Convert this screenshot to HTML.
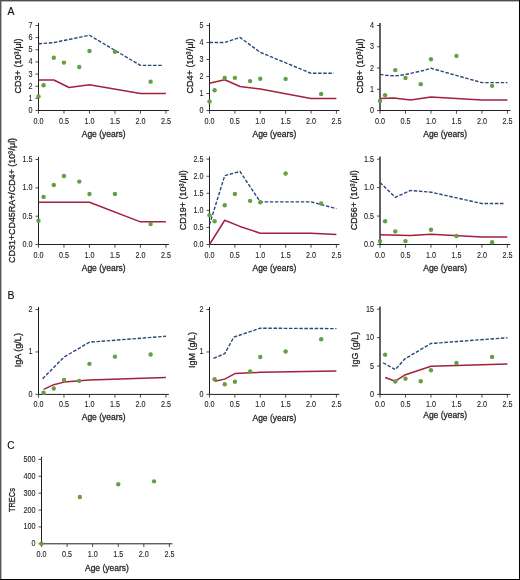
<!DOCTYPE html>
<html><head><meta charset="utf-8"><style>
html,body{margin:0;padding:0;background:#fff;}
svg{will-change:transform;}
svg{display:block;}
.t{font-family:"Liberation Sans",sans-serif;font-size:8.2px;fill:#231f20;stroke:#231f20;stroke-width:0.12px;}
.l{font-family:"Liberation Sans",sans-serif;font-size:9.6px;fill:#231f20;stroke:#231f20;stroke-width:0.3px;}
.pl{font-family:"Liberation Sans",sans-serif;font-size:11.2px;fill:#111;stroke:#111;stroke-width:0.15px;}
</style></head><body>
<svg width="520" height="580" viewBox="0 0 520 580">
<rect x="0" y="0" width="520" height="580" fill="#fff"/>
<text transform="translate(7.5 15.1) scale(0.93 1)" class="pl">A</text>
<text transform="translate(7.5 299.1) scale(0.93 1)" class="pl">B</text>
<text transform="translate(7.3 449.1) scale(0.9 1)" class="pl">C</text>
<path d="M38.5 22.9V110.5H168.9" fill="none" stroke="#231f20" stroke-width="1"/>
<text transform="translate(28.49 113) rotate(0.01)" class="t" textLength="4.01" lengthAdjust="spacingAndGlyphs">0</text>
<text transform="translate(28.49 100.86) rotate(0.01)" class="t" textLength="4.01" lengthAdjust="spacingAndGlyphs">1</text>
<text transform="translate(28.49 88.71) rotate(0.01)" class="t" textLength="4.01" lengthAdjust="spacingAndGlyphs">2</text>
<text transform="translate(28.49 76.57) rotate(0.01)" class="t" textLength="4.01" lengthAdjust="spacingAndGlyphs">3</text>
<text transform="translate(28.49 64.43) rotate(0.01)" class="t" textLength="4.01" lengthAdjust="spacingAndGlyphs">4</text>
<text transform="translate(28.49 52.29) rotate(0.01)" class="t" textLength="4.01" lengthAdjust="spacingAndGlyphs">5</text>
<text transform="translate(28.49 40.14) rotate(0.01)" class="t" textLength="4.01" lengthAdjust="spacingAndGlyphs">6</text>
<text transform="translate(28.49 28) rotate(0.01)" class="t" textLength="4.01" lengthAdjust="spacingAndGlyphs">7</text>
<text transform="translate(33.48 123.5) rotate(0.01)" class="t" textLength="10.03" lengthAdjust="spacingAndGlyphs">0.0</text>
<text transform="translate(58.96 123.5) rotate(0.01)" class="t" textLength="10.03" lengthAdjust="spacingAndGlyphs">0.5</text>
<text transform="translate(84.44 123.5) rotate(0.01)" class="t" textLength="10.03" lengthAdjust="spacingAndGlyphs">1.0</text>
<text transform="translate(109.92 123.5) rotate(0.01)" class="t" textLength="10.03" lengthAdjust="spacingAndGlyphs">1.5</text>
<text transform="translate(135.4 123.5) rotate(0.01)" class="t" textLength="10.03" lengthAdjust="spacingAndGlyphs">2.0</text>
<text transform="translate(160.88 123.5) rotate(0.01)" class="t" textLength="10.03" lengthAdjust="spacingAndGlyphs">2.5</text>
<path d="M35.5 110.5H38.5M35.5 98.36H38.5M35.5 86.21H38.5M35.5 74.07H38.5M35.5 61.93H38.5M35.5 49.79H38.5M35.5 37.64H38.5M35.5 25.5H38.5M38.5 110.5V113.7M63.98 110.5V113.7M89.46 110.5V113.7M114.94 110.5V113.7M140.42 110.5V113.7M165.9 110.5V113.7" fill="none" stroke="#231f20" stroke-width="0.8"/>
<text transform="translate(81.7 136.7) rotate(0.01)" class="l" textLength="44" lengthAdjust="spacingAndGlyphs">Age (years)</text>
<text transform="translate(21 93.4) rotate(-89.99)" x="0" y="0" class="l" textLength="55" lengthAdjust="spacingAndGlyphs">CD3+ (10³<tspan dx="0.5">/</tspan>μl)</text>
<polyline points="38.5,79.96 53.79,79.96 69.08,87.49 89.46,84.81 140.42,93.44 165.9,93.44" fill="none" stroke="#a3213d" stroke-width="1.5" stroke-linejoin="round"/>
<polyline points="38.5,43.77 53.79,42.56 89.46,35.27 140.42,65.39 163.35,65.39" fill="none" stroke="#284878" stroke-width="1.4" stroke-dasharray="3.5 1.65" stroke-linejoin="round"/>
<circle cx="38.5" cy="96.47" r="2.2" fill="#62a042"/>
<circle cx="43.6" cy="85.3" r="2.2" fill="#62a042"/>
<circle cx="53.79" cy="57.74" r="2.2" fill="#62a042"/>
<circle cx="63.98" cy="62.59" r="2.2" fill="#62a042"/>
<circle cx="79.27" cy="66.96" r="2.2" fill="#62a042"/>
<circle cx="89.46" cy="51.06" r="2.2" fill="#62a042"/>
<circle cx="114.94" cy="51.79" r="2.2" fill="#62a042"/>
<circle cx="150.61" cy="81.66" r="2.2" fill="#62a042"/>
<path d="M209.5 22.9V110.5H339.4" fill="none" stroke="#231f20" stroke-width="1"/>
<text transform="translate(199.49 113) rotate(0.01)" class="t" textLength="4.01" lengthAdjust="spacingAndGlyphs">0</text>
<text transform="translate(199.49 96) rotate(0.01)" class="t" textLength="4.01" lengthAdjust="spacingAndGlyphs">1</text>
<text transform="translate(199.49 79) rotate(0.01)" class="t" textLength="4.01" lengthAdjust="spacingAndGlyphs">2</text>
<text transform="translate(199.49 62) rotate(0.01)" class="t" textLength="4.01" lengthAdjust="spacingAndGlyphs">3</text>
<text transform="translate(199.49 45) rotate(0.01)" class="t" textLength="4.01" lengthAdjust="spacingAndGlyphs">4</text>
<text transform="translate(199.49 28) rotate(0.01)" class="t" textLength="4.01" lengthAdjust="spacingAndGlyphs">5</text>
<text transform="translate(204.48 123.5) rotate(0.01)" class="t" textLength="10.03" lengthAdjust="spacingAndGlyphs">0.0</text>
<text transform="translate(229.86 123.5) rotate(0.01)" class="t" textLength="10.03" lengthAdjust="spacingAndGlyphs">0.5</text>
<text transform="translate(255.24 123.5) rotate(0.01)" class="t" textLength="10.03" lengthAdjust="spacingAndGlyphs">1.0</text>
<text transform="translate(280.62 123.5) rotate(0.01)" class="t" textLength="10.03" lengthAdjust="spacingAndGlyphs">1.5</text>
<text transform="translate(306 123.5) rotate(0.01)" class="t" textLength="10.03" lengthAdjust="spacingAndGlyphs">2.0</text>
<text transform="translate(331.38 123.5) rotate(0.01)" class="t" textLength="10.03" lengthAdjust="spacingAndGlyphs">2.5</text>
<path d="M206.5 110.5H209.5M206.5 93.5H209.5M206.5 76.5H209.5M206.5 59.5H209.5M206.5 42.5H209.5M206.5 25.5H209.5M209.5 110.5V113.7M234.88 110.5V113.7M260.26 110.5V113.7M285.64 110.5V113.7M311.02 110.5V113.7M336.4 110.5V113.7" fill="none" stroke="#231f20" stroke-width="0.8"/>
<text transform="translate(252.45 136.7) rotate(0.01)" class="l" textLength="44" lengthAdjust="spacingAndGlyphs">Age (years)</text>
<text transform="translate(192.5 93.4) rotate(-89.99)" x="0" y="0" class="l" textLength="55" lengthAdjust="spacingAndGlyphs">CD4+ (10³<tspan dx="0.5">/</tspan>μl)</text>
<polyline points="209.5,83.3 224.73,79.73 239.96,86.53 260.26,88.91 311.02,98.6 336.4,98.6" fill="none" stroke="#a3213d" stroke-width="1.5" stroke-linejoin="round"/>
<polyline points="209.5,42.5 224.73,42.5 239.96,37.4 260.26,52.36 311.02,73.27 333.86,73.27" fill="none" stroke="#284878" stroke-width="1.4" stroke-dasharray="3.5 1.65" stroke-linejoin="round"/>
<circle cx="209.5" cy="101.49" r="2.2" fill="#62a042"/>
<circle cx="214.58" cy="90.27" r="2.2" fill="#62a042"/>
<circle cx="224.73" cy="78.03" r="2.2" fill="#62a042"/>
<circle cx="234.88" cy="77.86" r="2.2" fill="#62a042"/>
<circle cx="250.11" cy="81.09" r="2.2" fill="#62a042"/>
<circle cx="260.26" cy="78.71" r="2.2" fill="#62a042"/>
<circle cx="285.64" cy="78.88" r="2.2" fill="#62a042"/>
<circle cx="321.17" cy="94.01" r="2.2" fill="#62a042"/>
<path d="M380 22.9V110.5" fill="none" stroke="#231f20" stroke-width="1.4"/>
<path d="M380 110.5H510.4" fill="none" stroke="#231f20" stroke-width="1"/>
<text transform="translate(369.99 113) rotate(0.01)" class="t" textLength="4.01" lengthAdjust="spacingAndGlyphs">0</text>
<text transform="translate(369.99 91.75) rotate(0.01)" class="t" textLength="4.01" lengthAdjust="spacingAndGlyphs">1</text>
<text transform="translate(369.99 70.5) rotate(0.01)" class="t" textLength="4.01" lengthAdjust="spacingAndGlyphs">2</text>
<text transform="translate(369.99 49.25) rotate(0.01)" class="t" textLength="4.01" lengthAdjust="spacingAndGlyphs">3</text>
<text transform="translate(369.99 28) rotate(0.01)" class="t" textLength="4.01" lengthAdjust="spacingAndGlyphs">4</text>
<text transform="translate(374.98 123.5) rotate(0.01)" class="t" textLength="10.03" lengthAdjust="spacingAndGlyphs">0.0</text>
<text transform="translate(400.46 123.5) rotate(0.01)" class="t" textLength="10.03" lengthAdjust="spacingAndGlyphs">0.5</text>
<text transform="translate(425.94 123.5) rotate(0.01)" class="t" textLength="10.03" lengthAdjust="spacingAndGlyphs">1.0</text>
<text transform="translate(451.42 123.5) rotate(0.01)" class="t" textLength="10.03" lengthAdjust="spacingAndGlyphs">1.5</text>
<text transform="translate(476.9 123.5) rotate(0.01)" class="t" textLength="10.03" lengthAdjust="spacingAndGlyphs">2.0</text>
<text transform="translate(502.38 123.5) rotate(0.01)" class="t" textLength="10.03" lengthAdjust="spacingAndGlyphs">2.5</text>
<path d="M377 110.5H380M377 89.25H380M377 68H380M377 46.75H380M377 25.5H380M380 110.5V113.7M405.48 110.5V113.7M430.96 110.5V113.7M456.44 110.5V113.7M481.92 110.5V113.7M507.4 110.5V113.7" fill="none" stroke="#231f20" stroke-width="0.8"/>
<text transform="translate(423.2 136.7) rotate(0.01)" class="l" textLength="44" lengthAdjust="spacingAndGlyphs">Age (years)</text>
<text transform="translate(363 93.4) rotate(-89.99)" x="0" y="0" class="l" textLength="55" lengthAdjust="spacingAndGlyphs">CD8+ (10³<tspan dx="0.5">/</tspan>μl)</text>
<polyline points="380,98.6 393.76,97.96 410.58,100.09 430.96,96.9 481.92,100.09 507.4,100.09" fill="none" stroke="#a3213d" stroke-width="1.5" stroke-linejoin="round"/>
<polyline points="380,74.38 386.12,75.33 392.23,75.76 397.33,75.65 404.97,74.59 415.67,72.25 423.32,70.55 430.96,68.21 481.92,82.66 507.4,82.66" fill="none" stroke="#284878" stroke-width="1.4" stroke-dasharray="3.5 1.65" stroke-linejoin="round"/>
<circle cx="380" cy="100.94" r="2.2" fill="#62a042"/>
<circle cx="385.1" cy="95.2" r="2.2" fill="#62a042"/>
<circle cx="395.29" cy="70.12" r="2.2" fill="#62a042"/>
<circle cx="405.48" cy="77.99" r="2.2" fill="#62a042"/>
<circle cx="420.77" cy="84.15" r="2.2" fill="#62a042"/>
<circle cx="430.96" cy="59.29" r="2.2" fill="#62a042"/>
<circle cx="456.44" cy="55.89" r="2.2" fill="#62a042"/>
<circle cx="492.11" cy="85.85" r="2.2" fill="#62a042"/>
<path d="M38.5 156.9V244.5H168.9" fill="none" stroke="#231f20" stroke-width="1"/>
<text transform="translate(22.47 247) rotate(0.01)" class="t" textLength="10.03" lengthAdjust="spacingAndGlyphs">0.0</text>
<text transform="translate(22.47 218.67) rotate(0.01)" class="t" textLength="10.03" lengthAdjust="spacingAndGlyphs">0.5</text>
<text transform="translate(22.47 190.33) rotate(0.01)" class="t" textLength="10.03" lengthAdjust="spacingAndGlyphs">1.0</text>
<text transform="translate(22.47 162) rotate(0.01)" class="t" textLength="10.03" lengthAdjust="spacingAndGlyphs">1.5</text>
<text transform="translate(33.48 257.5) rotate(0.01)" class="t" textLength="10.03" lengthAdjust="spacingAndGlyphs">0.0</text>
<text transform="translate(58.96 257.5) rotate(0.01)" class="t" textLength="10.03" lengthAdjust="spacingAndGlyphs">0.5</text>
<text transform="translate(84.44 257.5) rotate(0.01)" class="t" textLength="10.03" lengthAdjust="spacingAndGlyphs">1.0</text>
<text transform="translate(109.92 257.5) rotate(0.01)" class="t" textLength="10.03" lengthAdjust="spacingAndGlyphs">1.5</text>
<text transform="translate(135.4 257.5) rotate(0.01)" class="t" textLength="10.03" lengthAdjust="spacingAndGlyphs">2.0</text>
<text transform="translate(160.88 257.5) rotate(0.01)" class="t" textLength="10.03" lengthAdjust="spacingAndGlyphs">2.5</text>
<path d="M35.5 244.5H38.5M35.5 216.17H38.5M35.5 187.83H38.5M35.5 159.5H38.5M38.5 244.5V247.7M63.98 244.5V247.7M89.46 244.5V247.7M114.94 244.5V247.7M140.42 244.5V247.7M165.9 244.5V247.7" fill="none" stroke="#231f20" stroke-width="0.8"/>
<text transform="translate(81.7 270.7) rotate(0.01)" class="l" textLength="44" lengthAdjust="spacingAndGlyphs">Age (years)</text>
<text transform="translate(14.6 262.9) rotate(-89.99)" x="0" y="0" class="l" textLength="125" lengthAdjust="spacingAndGlyphs">CD31+CD45RA+/CD4+ (10³<tspan dx="0.5">/</tspan>μl)</text>
<polyline points="38.5,202.28 89.46,202.28 140.42,221.83 165.9,221.83" fill="none" stroke="#a3213d" stroke-width="1.5" stroke-linejoin="round"/>
<circle cx="38.5" cy="220.7" r="2.2" fill="#62a042"/>
<circle cx="43.6" cy="196.9" r="2.2" fill="#62a042"/>
<circle cx="53.79" cy="185" r="2.2" fill="#62a042"/>
<circle cx="63.98" cy="175.93" r="2.2" fill="#62a042"/>
<circle cx="79.27" cy="181.6" r="2.2" fill="#62a042"/>
<circle cx="89.46" cy="194.07" r="2.2" fill="#62a042"/>
<circle cx="114.94" cy="194.07" r="2.2" fill="#62a042"/>
<circle cx="150.61" cy="224.1" r="2.2" fill="#62a042"/>
<path d="M209.5 156.6V244.5H339.4" fill="none" stroke="#231f20" stroke-width="1"/>
<text transform="translate(193.47 247) rotate(0.01)" class="t" textLength="10.03" lengthAdjust="spacingAndGlyphs">0.0</text>
<text transform="translate(193.47 229.94) rotate(0.01)" class="t" textLength="10.03" lengthAdjust="spacingAndGlyphs">0.5</text>
<text transform="translate(193.47 212.88) rotate(0.01)" class="t" textLength="10.03" lengthAdjust="spacingAndGlyphs">1.0</text>
<text transform="translate(193.47 195.82) rotate(0.01)" class="t" textLength="10.03" lengthAdjust="spacingAndGlyphs">1.5</text>
<text transform="translate(193.47 178.76) rotate(0.01)" class="t" textLength="10.03" lengthAdjust="spacingAndGlyphs">2.0</text>
<text transform="translate(193.47 161.7) rotate(0.01)" class="t" textLength="10.03" lengthAdjust="spacingAndGlyphs">2.5</text>
<text transform="translate(204.48 257.5) rotate(0.01)" class="t" textLength="10.03" lengthAdjust="spacingAndGlyphs">0.0</text>
<text transform="translate(229.86 257.5) rotate(0.01)" class="t" textLength="10.03" lengthAdjust="spacingAndGlyphs">0.5</text>
<text transform="translate(255.24 257.5) rotate(0.01)" class="t" textLength="10.03" lengthAdjust="spacingAndGlyphs">1.0</text>
<text transform="translate(280.62 257.5) rotate(0.01)" class="t" textLength="10.03" lengthAdjust="spacingAndGlyphs">1.5</text>
<text transform="translate(306 257.5) rotate(0.01)" class="t" textLength="10.03" lengthAdjust="spacingAndGlyphs">2.0</text>
<text transform="translate(331.38 257.5) rotate(0.01)" class="t" textLength="10.03" lengthAdjust="spacingAndGlyphs">2.5</text>
<path d="M206.5 244.5H209.5M206.5 227.44H209.5M206.5 210.38H209.5M206.5 193.32H209.5M206.5 176.26H209.5M206.5 159.2H209.5M209.5 244.5V247.7M234.88 244.5V247.7M260.26 244.5V247.7M285.64 244.5V247.7M311.02 244.5V247.7M336.4 244.5V247.7" fill="none" stroke="#231f20" stroke-width="0.8"/>
<text transform="translate(252.45 270.7) rotate(0.01)" class="l" textLength="44" lengthAdjust="spacingAndGlyphs">Age (years)</text>
<text transform="translate(186.4 230.3) rotate(-89.99)" x="0" y="0" class="l" textLength="60" lengthAdjust="spacingAndGlyphs">CD19+ (10³<tspan dx="0.5">/</tspan>μl)</text>
<polyline points="209.5,244.5 224.73,220.27 239.96,226.42 260.26,233.24 311.02,233.24 336.4,234.61" fill="none" stroke="#a3213d" stroke-width="1.5" stroke-linejoin="round"/>
<polyline points="209.5,224.71 224.73,175.58 239.96,171.48 260.26,201.85 311.02,201.85 336.4,208.67" fill="none" stroke="#284878" stroke-width="1.4" stroke-dasharray="3.5 1.65" stroke-linejoin="round"/>
<circle cx="209.5" cy="215.16" r="2.2" fill="#62a042"/>
<circle cx="214.58" cy="221.3" r="2.2" fill="#62a042"/>
<circle cx="224.73" cy="205.26" r="2.2" fill="#62a042"/>
<circle cx="234.88" cy="194" r="2.2" fill="#62a042"/>
<circle cx="250.11" cy="200.83" r="2.2" fill="#62a042"/>
<circle cx="260.26" cy="202.19" r="2.2" fill="#62a042"/>
<circle cx="285.64" cy="173.53" r="2.2" fill="#62a042"/>
<circle cx="321.17" cy="203.56" r="2.2" fill="#62a042"/>
<path d="M380 156.6V244.5" fill="none" stroke="#231f20" stroke-width="1.4"/>
<path d="M380 244.5H510.4" fill="none" stroke="#231f20" stroke-width="1"/>
<text transform="translate(363.97 247) rotate(0.01)" class="t" textLength="10.03" lengthAdjust="spacingAndGlyphs">0.0</text>
<text transform="translate(363.97 218.57) rotate(0.01)" class="t" textLength="10.03" lengthAdjust="spacingAndGlyphs">0.5</text>
<text transform="translate(363.97 190.13) rotate(0.01)" class="t" textLength="10.03" lengthAdjust="spacingAndGlyphs">1.0</text>
<text transform="translate(363.97 161.7) rotate(0.01)" class="t" textLength="10.03" lengthAdjust="spacingAndGlyphs">1.5</text>
<text transform="translate(374.98 257.5) rotate(0.01)" class="t" textLength="10.03" lengthAdjust="spacingAndGlyphs">0.0</text>
<text transform="translate(400.46 257.5) rotate(0.01)" class="t" textLength="10.03" lengthAdjust="spacingAndGlyphs">0.5</text>
<text transform="translate(425.94 257.5) rotate(0.01)" class="t" textLength="10.03" lengthAdjust="spacingAndGlyphs">1.0</text>
<text transform="translate(451.42 257.5) rotate(0.01)" class="t" textLength="10.03" lengthAdjust="spacingAndGlyphs">1.5</text>
<text transform="translate(476.9 257.5) rotate(0.01)" class="t" textLength="10.03" lengthAdjust="spacingAndGlyphs">2.0</text>
<text transform="translate(502.38 257.5) rotate(0.01)" class="t" textLength="10.03" lengthAdjust="spacingAndGlyphs">2.5</text>
<path d="M377 244.5H380M377 216.07H380M377 187.63H380M377 159.2H380M380 244.5V247.7M405.48 244.5V247.7M430.96 244.5V247.7M456.44 244.5V247.7M481.92 244.5V247.7M507.4 244.5V247.7" fill="none" stroke="#231f20" stroke-width="0.8"/>
<text transform="translate(423.2 270.7) rotate(0.01)" class="l" textLength="44" lengthAdjust="spacingAndGlyphs">Age (years)</text>
<text transform="translate(356.7 230.3) rotate(-89.99)" x="0" y="0" class="l" textLength="60" lengthAdjust="spacingAndGlyphs">CD56+ (10³<tspan dx="0.5">/</tspan>μl)</text>
<polyline points="380,234.83 410.58,235.4 430.96,234.26 481.92,237.11 507.4,237.11" fill="none" stroke="#a3213d" stroke-width="1.5" stroke-linejoin="round"/>
<polyline points="380,182.52 395.29,197.3 410.58,190.48 430.96,192.18 481.92,203.56 504.85,203.56" fill="none" stroke="#284878" stroke-width="1.4" stroke-dasharray="3.5 1.65" stroke-linejoin="round"/>
<circle cx="380" cy="241.09" r="2.2" fill="#62a042"/>
<circle cx="385.1" cy="221.18" r="2.2" fill="#62a042"/>
<circle cx="395.29" cy="231.42" r="2.2" fill="#62a042"/>
<circle cx="405.48" cy="241.09" r="2.2" fill="#62a042"/>
<circle cx="430.96" cy="229.71" r="2.2" fill="#62a042"/>
<circle cx="456.44" cy="235.97" r="2.2" fill="#62a042"/>
<circle cx="492.11" cy="242.23" r="2.2" fill="#62a042"/>
<path d="M38.5 306.9V394.4H168.9" fill="none" stroke="#231f20" stroke-width="1"/>
<text transform="translate(28.49 396.9) rotate(0.01)" class="t" textLength="4.01" lengthAdjust="spacingAndGlyphs">0</text>
<text transform="translate(28.49 354.45) rotate(0.01)" class="t" textLength="4.01" lengthAdjust="spacingAndGlyphs">1</text>
<text transform="translate(28.49 312) rotate(0.01)" class="t" textLength="4.01" lengthAdjust="spacingAndGlyphs">2</text>
<text transform="translate(33.48 407.4) rotate(0.01)" class="t" textLength="10.03" lengthAdjust="spacingAndGlyphs">0.0</text>
<text transform="translate(58.96 407.4) rotate(0.01)" class="t" textLength="10.03" lengthAdjust="spacingAndGlyphs">0.5</text>
<text transform="translate(84.44 407.4) rotate(0.01)" class="t" textLength="10.03" lengthAdjust="spacingAndGlyphs">1.0</text>
<text transform="translate(109.92 407.4) rotate(0.01)" class="t" textLength="10.03" lengthAdjust="spacingAndGlyphs">1.5</text>
<text transform="translate(135.4 407.4) rotate(0.01)" class="t" textLength="10.03" lengthAdjust="spacingAndGlyphs">2.0</text>
<text transform="translate(160.88 407.4) rotate(0.01)" class="t" textLength="10.03" lengthAdjust="spacingAndGlyphs">2.5</text>
<path d="M35.5 394.4H38.5M35.5 351.95H38.5M35.5 309.5H38.5M38.5 394.4V397.6M63.98 394.4V397.6M89.46 394.4V397.6M114.94 394.4V397.6M140.42 394.4V397.6M165.9 394.4V397.6" fill="none" stroke="#231f20" stroke-width="0.8"/>
<text transform="translate(81.7 420.4) rotate(0.01)" class="l" textLength="44" lengthAdjust="spacingAndGlyphs">Age (years)</text>
<text transform="translate(21.3 367.3) rotate(-89.99)" x="0" y="0" class="l" textLength="34.2" lengthAdjust="spacingAndGlyphs">IgA (g/L)</text>
<polyline points="43.6,389.33 53.79,384.66 63.98,382.11 89.46,379.99 165.9,377.44" fill="none" stroke="#a3213d" stroke-width="1.5" stroke-linejoin="round"/>
<polyline points="42.58,378.72 63.98,357.07 89.46,342.21 165.9,336.27" fill="none" stroke="#284878" stroke-width="1.4" stroke-dasharray="3.5 1.65" stroke-linejoin="round"/>
<circle cx="43.6" cy="392.73" r="2.2" fill="#62a042"/>
<circle cx="53.79" cy="388.48" r="2.2" fill="#62a042"/>
<circle cx="63.98" cy="379.99" r="2.2" fill="#62a042"/>
<circle cx="79.27" cy="380.84" r="2.2" fill="#62a042"/>
<circle cx="89.46" cy="363.86" r="2.2" fill="#62a042"/>
<circle cx="114.94" cy="356.64" r="2.2" fill="#62a042"/>
<circle cx="150.61" cy="354.52" r="2.2" fill="#62a042"/>
<path d="M209.5 306.9V394.4H339.4" fill="none" stroke="#231f20" stroke-width="1"/>
<text transform="translate(199.49 396.9) rotate(0.01)" class="t" textLength="4.01" lengthAdjust="spacingAndGlyphs">0</text>
<text transform="translate(199.49 354.45) rotate(0.01)" class="t" textLength="4.01" lengthAdjust="spacingAndGlyphs">1</text>
<text transform="translate(199.49 312) rotate(0.01)" class="t" textLength="4.01" lengthAdjust="spacingAndGlyphs">2</text>
<text transform="translate(204.48 407.4) rotate(0.01)" class="t" textLength="10.03" lengthAdjust="spacingAndGlyphs">0.0</text>
<text transform="translate(229.86 407.4) rotate(0.01)" class="t" textLength="10.03" lengthAdjust="spacingAndGlyphs">0.5</text>
<text transform="translate(255.24 407.4) rotate(0.01)" class="t" textLength="10.03" lengthAdjust="spacingAndGlyphs">1.0</text>
<text transform="translate(280.62 407.4) rotate(0.01)" class="t" textLength="10.03" lengthAdjust="spacingAndGlyphs">1.5</text>
<text transform="translate(306 407.4) rotate(0.01)" class="t" textLength="10.03" lengthAdjust="spacingAndGlyphs">2.0</text>
<text transform="translate(331.38 407.4) rotate(0.01)" class="t" textLength="10.03" lengthAdjust="spacingAndGlyphs">2.5</text>
<path d="M206.5 394.4H209.5M206.5 351.95H209.5M206.5 309.5H209.5M209.5 394.4V397.6M234.88 394.4V397.6M260.26 394.4V397.6M285.64 394.4V397.6M311.02 394.4V397.6M336.4 394.4V397.6" fill="none" stroke="#231f20" stroke-width="0.8"/>
<text transform="translate(252.45 420.5) rotate(0.01)" class="l" textLength="44" lengthAdjust="spacingAndGlyphs">Age (years)</text>
<text transform="translate(194.8 368.1) rotate(-89.99)" x="0" y="0" class="l" textLength="36.2" lengthAdjust="spacingAndGlyphs">IgM (g/L)</text>
<polyline points="214.58,381.26 224.73,379.14 234.88,373.62 260.26,372.35 336.4,371.08" fill="none" stroke="#a3213d" stroke-width="1.5" stroke-linejoin="round"/>
<polyline points="213.56,358.34 224.73,353.67 233.86,337.12 260.26,328.2 336.4,328.63" fill="none" stroke="#284878" stroke-width="1.4" stroke-dasharray="3.5 1.65" stroke-linejoin="round"/>
<circle cx="214.58" cy="379.14" r="2.2" fill="#62a042"/>
<circle cx="224.73" cy="384.24" r="2.2" fill="#62a042"/>
<circle cx="234.88" cy="381.69" r="2.2" fill="#62a042"/>
<circle cx="250.11" cy="371.5" r="2.2" fill="#62a042"/>
<circle cx="260.26" cy="357.07" r="2.2" fill="#62a042"/>
<circle cx="285.64" cy="351.55" r="2.2" fill="#62a042"/>
<circle cx="321.17" cy="339.24" r="2.2" fill="#62a042"/>
<path d="M380 306.6V394.4" fill="none" stroke="#231f20" stroke-width="1.4"/>
<path d="M380 394.4H510.4" fill="none" stroke="#231f20" stroke-width="1"/>
<text transform="translate(369.99 396.9) rotate(0.01)" class="t" textLength="4.01" lengthAdjust="spacingAndGlyphs">0</text>
<text transform="translate(369.99 368.5) rotate(0.01)" class="t" textLength="4.01" lengthAdjust="spacingAndGlyphs">5</text>
<text transform="translate(365.98 340.1) rotate(0.01)" class="t" textLength="8.02" lengthAdjust="spacingAndGlyphs">10</text>
<text transform="translate(365.98 311.7) rotate(0.01)" class="t" textLength="8.02" lengthAdjust="spacingAndGlyphs">15</text>
<text transform="translate(374.98 407.4) rotate(0.01)" class="t" textLength="10.03" lengthAdjust="spacingAndGlyphs">0.0</text>
<text transform="translate(400.46 407.4) rotate(0.01)" class="t" textLength="10.03" lengthAdjust="spacingAndGlyphs">0.5</text>
<text transform="translate(425.94 407.4) rotate(0.01)" class="t" textLength="10.03" lengthAdjust="spacingAndGlyphs">1.0</text>
<text transform="translate(451.42 407.4) rotate(0.01)" class="t" textLength="10.03" lengthAdjust="spacingAndGlyphs">1.5</text>
<text transform="translate(476.9 407.4) rotate(0.01)" class="t" textLength="10.03" lengthAdjust="spacingAndGlyphs">2.0</text>
<text transform="translate(502.38 407.4) rotate(0.01)" class="t" textLength="10.03" lengthAdjust="spacingAndGlyphs">2.5</text>
<path d="M377 394.4H380M377 366H380M377 337.6H380M377 309.2H380M380 394.4V397.6M405.48 394.4V397.6M430.96 394.4V397.6M456.44 394.4V397.6M481.92 394.4V397.6M507.4 394.4V397.6" fill="none" stroke="#231f20" stroke-width="0.8"/>
<text transform="translate(423.2 417.6) rotate(0.01)" class="l" textLength="44" lengthAdjust="spacingAndGlyphs">Age (years)</text>
<text transform="translate(358.3 366.9) rotate(-89.99)" x="0" y="0" class="l" textLength="35" lengthAdjust="spacingAndGlyphs">IgG (g/L)</text>
<polyline points="385.1,377.53 395.29,381.22 405.48,374.69 430.96,366.17 507.4,363.9" fill="none" stroke="#a3213d" stroke-width="1.5" stroke-linejoin="round"/>
<polyline points="383.06,362.76 395.29,369.58 404.97,358.78 430.96,343.45 507.4,337.77" fill="none" stroke="#284878" stroke-width="1.4" stroke-dasharray="3.5 1.65" stroke-linejoin="round"/>
<circle cx="385.1" cy="354.81" r="2.2" fill="#62a042"/>
<circle cx="395.29" cy="381.5" r="2.2" fill="#62a042"/>
<circle cx="405.48" cy="378.66" r="2.2" fill="#62a042"/>
<circle cx="420.77" cy="381.22" r="2.2" fill="#62a042"/>
<circle cx="430.96" cy="370.31" r="2.2" fill="#62a042"/>
<circle cx="456.44" cy="362.99" r="2.2" fill="#62a042"/>
<circle cx="492.11" cy="356.91" r="2.2" fill="#62a042"/>
<path d="M41.5 456.8V543.8H172.4" fill="none" stroke="#231f20" stroke-width="1"/>
<text transform="translate(31.49 546.3) rotate(0.01)" class="t" textLength="4.01" lengthAdjust="spacingAndGlyphs">0</text>
<text transform="translate(23.46 529.42) rotate(0.01)" class="t" textLength="12.04" lengthAdjust="spacingAndGlyphs">100</text>
<text transform="translate(23.46 512.54) rotate(0.01)" class="t" textLength="12.04" lengthAdjust="spacingAndGlyphs">200</text>
<text transform="translate(23.46 495.66) rotate(0.01)" class="t" textLength="12.04" lengthAdjust="spacingAndGlyphs">300</text>
<text transform="translate(23.46 478.78) rotate(0.01)" class="t" textLength="12.04" lengthAdjust="spacingAndGlyphs">400</text>
<text transform="translate(23.46 461.9) rotate(0.01)" class="t" textLength="12.04" lengthAdjust="spacingAndGlyphs">500</text>
<text transform="translate(36.48 556.8) rotate(0.01)" class="t" textLength="10.03" lengthAdjust="spacingAndGlyphs">0.0</text>
<text transform="translate(62.06 556.8) rotate(0.01)" class="t" textLength="10.03" lengthAdjust="spacingAndGlyphs">0.5</text>
<text transform="translate(87.64 556.8) rotate(0.01)" class="t" textLength="10.03" lengthAdjust="spacingAndGlyphs">1.0</text>
<text transform="translate(113.22 556.8) rotate(0.01)" class="t" textLength="10.03" lengthAdjust="spacingAndGlyphs">1.5</text>
<text transform="translate(138.8 556.8) rotate(0.01)" class="t" textLength="10.03" lengthAdjust="spacingAndGlyphs">2.0</text>
<text transform="translate(164.38 556.8) rotate(0.01)" class="t" textLength="10.03" lengthAdjust="spacingAndGlyphs">2.5</text>
<path d="M38.5 543.8H41.5M38.5 526.92H41.5M38.5 510.04H41.5M38.5 493.16H41.5M38.5 476.28H41.5M38.5 459.4H41.5M41.5 543.8V547M67.08 543.8V547M92.66 543.8V547M118.24 543.8V547M143.82 543.8V547M169.4 543.8V547" fill="none" stroke="#231f20" stroke-width="0.8"/>
<text transform="translate(84.95 570.6) rotate(0.01)" class="l" textLength="44" lengthAdjust="spacingAndGlyphs">Age (years)</text>
<text transform="translate(14.9 512.1) rotate(-89.99)" x="0" y="0" class="l" textLength="24" lengthAdjust="spacingAndGlyphs">TRECs</text>
<circle cx="41.5" cy="543.8" r="2.2" fill="#62a042"/>
<circle cx="79.87" cy="497.04" r="2.2" fill="#62a042"/>
<circle cx="118.24" cy="484.21" r="2.2" fill="#62a042"/>
<circle cx="154.05" cy="481.34" r="2.2" fill="#62a042"/>
<rect x="0" y="0" width="520" height="1.4" fill="#4d4d4d"/>
<rect x="0" y="0" width="1.4" height="580" fill="#555"/>
<rect x="519" y="0" width="1" height="580" fill="#000"/>
<rect x="0" y="579" width="520" height="1" fill="#000"/>
</svg>
</body></html>
